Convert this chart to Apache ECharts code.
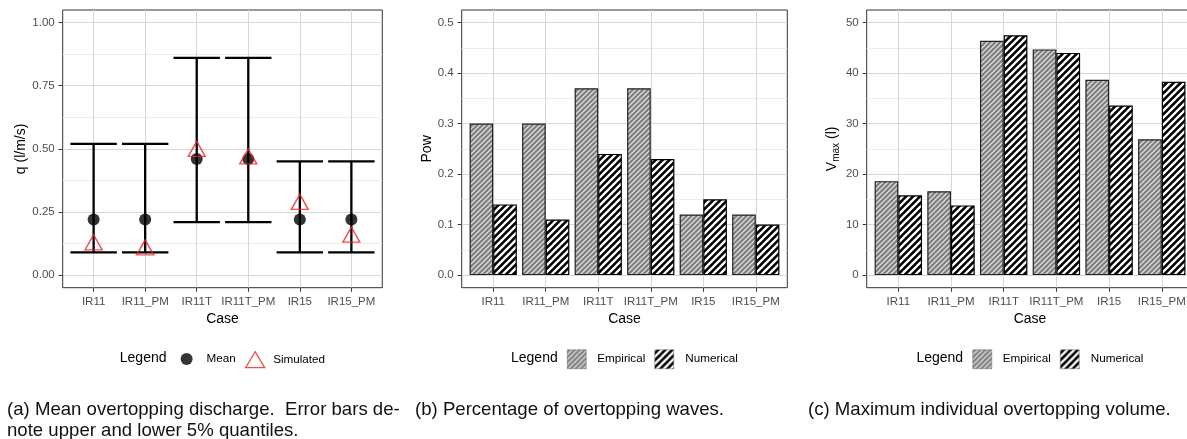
<!DOCTYPE html>
<html><head><meta charset="utf-8">
<script src="https://cdn.jsdelivr.net/npm/echarts@6/dist/echarts.min.js"></script>
<style>html,body{margin:0;padding:0;background:#fff}#c{width:1187px;height:439px}</style>
</head><body><div id="c"></div>
<script>
// ---------- data ----------
const cases = ['IR11','IR11_PM','IR11T','IR11T_PM','IR15','IR15_PM'];
const qMean = [0.22,0.22,0.46,0.46,0.22,0.22];
const qLower = [0.09,0.09,0.21,0.21,0.09,0.09];
const qUpper = [0.52,0.52,0.86,0.86,0.45,0.45];
const qSimulated = [0.12,0.10,0.49,0.46,0.28,0.15];
const powEmpirical = [0.30,0.30,0.37,0.37,0.12,0.12];
const powNumerical = [0.14,0.11,0.24,0.23,0.15,0.10];
const vmaxEmpirical = [18.6,16.6,46.4,44.7,38.7,26.9];
const vmaxNumerical = [15.8,13.8,47.5,44.0,33.6,38.3];
const qTicks = [0,0.25,0.5,0.75,1.0];
const qMinor = [0.125,0.375,0.625,0.875];
const powTicks = [0,0.1,0.2,0.3,0.4,0.5];
const powMinor = [0.05,0.15,0.25,0.35,0.45];
const vmaxTicks = [0,10,20,30,40,50];
const vmaxMinor = [5,15,25,35,45];
const caseIdx = cases.map((c,i)=>i);

// ---------- styles ----------
const FONT = 'Liberation Sans, Arial, Helvetica, sans-serif';
function stripes(size, bg, fg, lw){
  const c = document.createElement('canvas');
  c.width = size; c.height = size;
  const g = c.getContext('2d');
  g.fillStyle = bg; g.fillRect(0,0,size,size);
  g.strokeStyle = fg; g.lineWidth = lw; g.lineCap='square';
  g.beginPath();
  for (let k=-1;k<=1;k++){ g.moveTo(k*size, size); g.lineTo(k*size+size, 0); }
  g.stroke();
  return c;
}
const empPattern = {image: stripes(5,'#7e7e7e','#dedede',1.3), repeat:'repeat'};
const numPattern = {image: stripes(7,'#000000','#ffffff',2.3), repeat:'repeat'};

const panels = [
  {left:62.7, width:319.6},
  {left:461.7, width:325.6},
  {left:866.7, width:326.7}
];
const grids = panels.map(p=>({left:p.left, top:10, width:p.width, height:277.7,
  show:true, borderColor:'#333', borderWidth:1, backgroundColor:'#fff',
  containLabel:false, outerBoundsMode:'none'}));

const majorColor = '#d6d6d6', minorColor = '#ececec';
function xAxisFor(i){
  return {type:'value', gridIndex:i, min:-0.6, max:5.6, position:'bottom',
    axisLine:{show:false, onZero:false},
    axisTick:{show:true, customValues:caseIdx, length:4, lineStyle:{color:'#333', width:1}},
    axisLabel:{show:true, customValues:caseIdx, formatter:v=>cases[Math.round(v)]||'',
      color:'#4d4d4d', fontSize:11.5, fontFamily:FONT, margin:8},
    splitLine:{show:true, lineStyle:{color:majorColor, width:1}},
    name:'Case', nameLocation:'middle', nameGap:22,
    nameTextStyle:{color:'#000', fontSize:14, fontFamily:FONT}};
}
function yAxisFor(i, min, max, ticks, fmt, name, gap, rich){
  const ax = {type:'value', gridIndex:i, min:min, max:max, position:'left',
    axisLine:{show:false, onZero:false},
    axisTick:{show:true, customValues:ticks, length:4, lineStyle:{color:'#333', width:1}},
    axisLabel:{show:true, customValues:ticks, formatter:fmt, color:'#4d4d4d', fontSize:11.5, fontFamily:FONT, margin:8},
    splitLine:{show:true, lineStyle:{color:majorColor, width:1}},
    name:name, nameLocation:'middle', nameGap:gap,
    nameTextStyle:{color:'#000', fontSize:14, fontFamily:FONT}};
  if (rich) ax.nameTextStyle.rich = rich;
  return ax;
}
function yMinorFor(i, min, max, minor){
  return {type:'value', gridIndex:i, min:min, max:max, position:'left',
    axisLine:{show:false, onZero:false}, axisTick:{show:false, customValues:minor},
    axisLabel:{show:false, customValues:minor},
    splitLine:{show:true, lineStyle:{color:minorColor, width:1}}};
}
const legendText = {fontSize:11.7, fontFamily:FONT, color:'#000'};
function lt(padLeft){ return Object.assign({}, legendText, {padding:[0,0,0,padLeft]}); }
function legendItem(name, icon, style, left, top, w, h, pad, keep){
  const l = {data:[{name:name, icon:icon, itemStyle:style}], left:left, top:top, itemWidth:w, itemHeight:h,
    padding:0, selectedMode:false, textStyle:lt(pad)};
  if (keep === false) l.symbolKeepAspect = false;
  return l;
}
const empKey = {color:empPattern, borderColor:'#666', borderWidth:0.5};
const numKey = {color:numPattern, borderColor:'#666', borderWidth:0.5};
const legendY = 359;
const capFont = 18.6;

const option = {
  backgroundColor:'#fff',
  animation:false,
  grid: grids,
  xAxis: [xAxisFor(0), xAxisFor(1), xAxisFor(2)],
  yAxis: [
    yMinorFor(0,-0.05,1.05,qMinor),
    yAxisFor(0,-0.05,1.05,qTicks,v=>v.toFixed(2),'q (l/m/s)',27.5),
    yMinorFor(1,-0.025,0.525,powMinor),
    yAxisFor(1,-0.025,0.525,powTicks,v=>v.toFixed(1),'Pow',26),
    yMinorFor(2,-2.5,52.5,vmaxMinor),
    yAxisFor(2,-2.5,52.5,vmaxTicks,v=>String(Math.round(v)),'{v|V}{s|max}{v| (l)}',25,
      {v:{fontSize:14, fontFamily:FONT, color:'#000', lineHeight:20, verticalAlign:'middle'},
       s:{fontSize:10, fontFamily:FONT, color:'#000', lineHeight:10, verticalAlign:'bottom'}})
  ],
  legend: [
    legendItem('Mean','circle',{color:'#000'}, 180.6, legendY-6, 12, 12, 9),
    legendItem('Simulated','triangle',{color:'rgba(0,0,0,0)', borderColor:'#ec2227', borderWidth:1.3}, 245, legendY-8, 19, 16, 3.5, false),
    legendItem('Empirical','rect',empKey, 624.5-57.5, legendY-9.5, 19, 19, 6),
    legendItem('Numerical','rect',numKey, 624.5+30, legendY-9.5, 19, 19, 6.5),
    legendItem('Empirical','rect',empKey, 1030-57.5, legendY-9.5, 19, 19, 6),
    legendItem('Numerical','rect',numKey, 1030+30, legendY-9.5, 19, 19, 6.5)
  ],
  graphic: [
    {type:'text', left:119.8, top:legendY-8, style:{text:'Legend', fontSize:14, fontFamily:FONT, fill:'#000'}},
    {type:'text', left:511, top:legendY-8, style:{text:'Legend', fontSize:14, fontFamily:FONT, fill:'#000'}},
    {type:'text', left:916.4, top:legendY-8, style:{text:'Legend', fontSize:14, fontFamily:FONT, fill:'#000'}},
    {type:'text', left:7, top:399, style:{text:'(a) Mean overtopping discharge.  Error bars de-\nnote upper and lower 5% quantiles.', fontSize:capFont, lineHeight:21, fontFamily:FONT, fill:'#111'}},
    {type:'text', left:415, top:399, style:{text:'(b) Percentage of overtopping waves.', fontSize:capFont, lineHeight:21, fontFamily:FONT, fill:'#111'}},
    {type:'text', left:808, top:399, style:{text:'(c) Maximum individual overtopping volume.', fontSize:capFont, lineHeight:21, fontFamily:FONT, fill:'#111'}}
  ],
  series: [
    {type:'custom', name:'Quantiles', xAxisIndex:0, yAxisIndex:1,
     data: caseIdx.map(i=>[i, qLower[i], qUpper[i]]),
     encode:{x:0, y:[1,2]},
     renderItem:function(params, api){
       const x = api.value(0);
       const lo = api.coord([x, api.value(1)]);
       const hi = api.coord([x, api.value(2)]);
       const hw = api.size([0.9, 0])[0]/2;
       const st = {stroke:'#000', lineWidth:2.3};
       return {type:'group', children:[
         {type:'line', shape:{x1:lo[0], y1:lo[1], x2:hi[0], y2:hi[1]}, style:st},
         {type:'line', shape:{x1:lo[0]-hw, y1:lo[1], x2:lo[0]+hw, y2:lo[1]}, style:st},
         {type:'line', shape:{x1:hi[0]-hw, y1:hi[1], x2:hi[0]+hw, y2:hi[1]}, style:st}
       ]};
     }, z:2},
    {type:'scatter', name:'Mean', xAxisIndex:0, yAxisIndex:1,
     data: caseIdx.map(i=>[i, qMean[i]]), symbol:'circle', symbolSize:12,
     itemStyle:{color:'#000'}, z:3},
    {type:'scatter', name:'Simulated', xAxisIndex:0, yAxisIndex:1,
     data: caseIdx.map(i=>[i, qSimulated[i]]), symbol:'triangle', symbolSize:[17,15], symbolOffset:[0,-2.5],
     itemStyle:{color:'rgba(0,0,0,0)', borderColor:'#ec2227', borderWidth:1.4}, z:4},
    {type:'bar', name:'Empirical', xAxisIndex:1, yAxisIndex:3,
     data: caseIdx.map(i=>[i, powEmpirical[i]]), barWidth:'45%', barGap:'0%',
     itemStyle:{color:empPattern, borderColor:'#222', borderWidth:1.2}},
    {type:'bar', name:'Numerical', xAxisIndex:1, yAxisIndex:3,
     data: caseIdx.map(i=>[i, powNumerical[i]]), barWidth:'45%', barGap:'0%',
     itemStyle:{color:numPattern, borderColor:'#000', borderWidth:1.2}},
    {type:'bar', name:'Empirical', xAxisIndex:2, yAxisIndex:5,
     data: caseIdx.map(i=>[i, vmaxEmpirical[i]]), barWidth:'45%', barGap:'0%',
     itemStyle:{color:empPattern, borderColor:'#222', borderWidth:1.2}},
    {type:'bar', name:'Numerical', xAxisIndex:2, yAxisIndex:5,
     data: caseIdx.map(i=>[i, vmaxNumerical[i]]), barWidth:'45%', barGap:'0%',
     itemStyle:{color:numPattern, borderColor:'#000', borderWidth:1.2}}
  ]
};
const chart = echarts.init(document.getElementById('c'), null, {renderer:'canvas'});
chart.setOption(option);
</script>
</body></html>
